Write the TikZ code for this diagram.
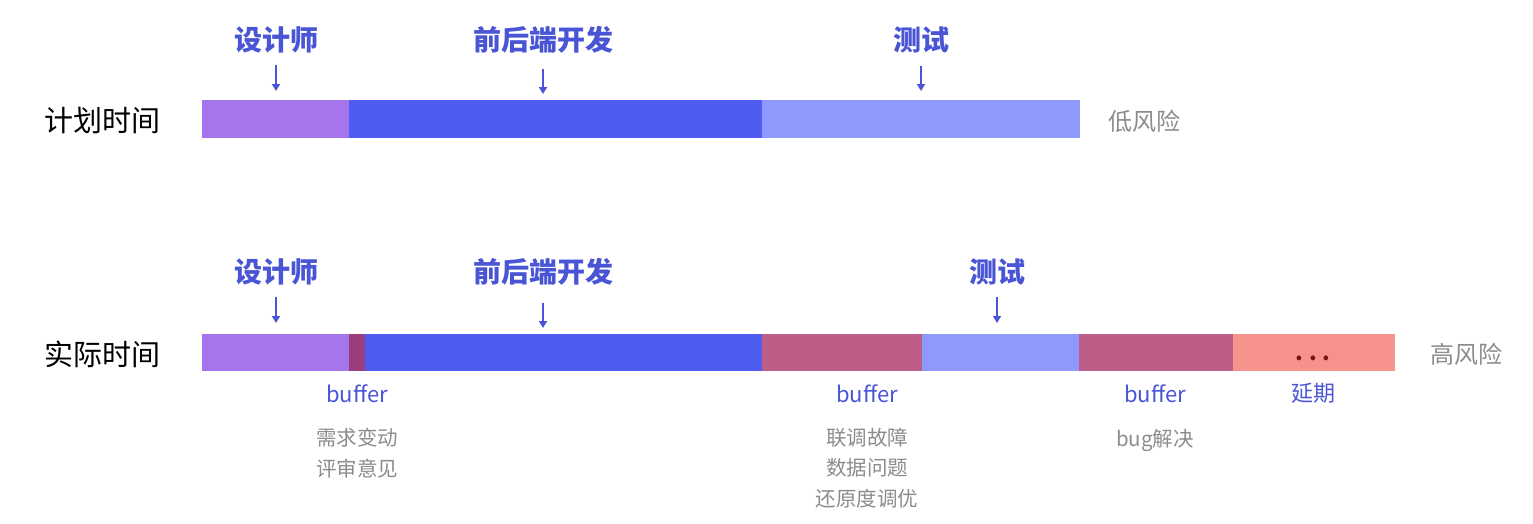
\documentclass[tikz,border=0pt]{standalone}
\usepackage{fontspec}
\setmainfont{Noto Sans CJK SC}
\usetikzlibrary{arrows.meta}
\definecolor{cPurple}{HTML}{A575EE}
\definecolor{cBlue}{HTML}{4F5CF0}
\definecolor{cLight}{HTML}{8F98FC}
\definecolor{cBuf}{HTML}{BC5E88}
\definecolor{cBufDark}{HTML}{9B3E7E}
\definecolor{cDelay}{HTML}{F4928B}
\definecolor{cDots}{HTML}{7A1212}
\definecolor{cLabel}{HTML}{4A55D6}
\definecolor{cGray}{HTML}{8C8C8C}
\begin{document}
\begin{tikzpicture}[x=1pt,y=-1pt,
  seg/.style={anchor=west, inner sep=0pt, outer sep=0pt, minimum height=37.5pt},
  stage/.style={anchor=base, inner sep=0pt, text=cLabel, font=\fontsize{28}{32}\selectfont\bfseries},
  rowlabel/.style={anchor=base west, inner sep=0pt, text=black, font=\fontsize{29}{32}\selectfont},
  risk/.style={anchor=base west, inner sep=0pt, text=cGray, font=\fontsize{24}{28}\selectfont},
  buf/.style={anchor=base, inner sep=0pt, text=cLabel, font=\fontsize{22}{26}\selectfont},
  note/.style={anchor=base, inner sep=0pt, align=center, text=cGray, font=\fontsize{20.5}{30.5}\selectfont},
  pointer/.style={draw=cLabel, line width=1.8pt, -{Triangle[length=7pt,width=8pt]}}
]
\useasboundingbox (0,0) rectangle (1533,523);

% ---- planned row ----
\node[rowlabel] (planL) at (44,131) {计划时间};
\node[seg, fill=cPurple, minimum width=147pt] (pDes) at (202,119) {};
\node[seg, fill=cBlue, minimum width=413pt] (pDev) at (349,119) {};
\node[seg, fill=cLight, minimum width=318pt] (pTest) at (762,119) {};
\node[risk] (lowR) at (1108,130) {低风险};

\node[stage] (sDes) at (276,50) {设计师};
\node[stage] (sDev) at (543,50) {前后端开发};
\node[stage] (sTest) at (921,50) {测试};
\coordinate (a1s) at (276,65); \coordinate (a1e) at (276,91);
\coordinate (a2s) at (543,69); \coordinate (a2e) at (543,94);
\coordinate (a3s) at (921,66); \coordinate (a3e) at (921,91);
\draw[pointer] (a1s) -- (a1e);
\draw[pointer] (a2s) -- (a2e);
\draw[pointer] (a3s) -- (a3e);

% ---- actual row ----
\node[rowlabel] (actL) at (44,365) {实际时间};
\node[seg, fill=cPurple, minimum width=147pt] (aDes) at (202,352.5) {};
\node[seg, fill=cBufDark, minimum width=16pt] (aBuf1) at (349,352.5) {};
\node[seg, fill=cBlue, minimum width=397pt] (aDev) at (365,352.5) {};
\node[seg, fill=cBuf, minimum width=160pt] (aBuf2) at (762,352.5) {};
\node[seg, fill=cLight, minimum width=157pt] (aTest) at (922,352.5) {};
\node[seg, fill=cBuf, minimum width=154pt] (aBuf3) at (1079,352.5) {};
\node[seg, fill=cDelay, minimum width=162pt] (aDelay) at (1233,352.5) {};
\node[anchor=base, inner sep=0pt, text=cDots, font=\fontsize{22}{26}\selectfont\bfseries] (dots) at (1313,360) {.\hspace{6pt}.\hspace{6pt}.};
\node[risk] (highR) at (1430,363) {高风险};

\node[stage] (tDes) at (276,282) {设计师};
\node[stage] (tDev) at (543,282) {前后端开发};
\node[stage] (tTest) at (997,282) {测试};
\coordinate (b1s) at (276,297); \coordinate (b1e) at (276,323);
\coordinate (b2s) at (543,303); \coordinate (b2e) at (543,328);
\coordinate (b3s) at (997,297); \coordinate (b3e) at (997,323);
\draw[pointer] (b1s) -- (b1e);
\draw[pointer] (b2s) -- (b2e);
\draw[pointer] (b3s) -- (b3e);

\node[buf] (buf1) at (357,402) {buffer};
\node[buf] (buf2) at (867,402) {buffer};
\node[buf] (buf3) at (1155,402) {buffer};
\node[buf] (delayL) at (1313,401) {延期};

\node[note] (n1) at (357,476) {需求变动\\评审意见};
\node[note] (n2) at (867,506) {联调故障\\数据问题\\还原度调优};
\node[note] (n3) at (1155,446) {bug解决};
\end{tikzpicture}
\end{document}
